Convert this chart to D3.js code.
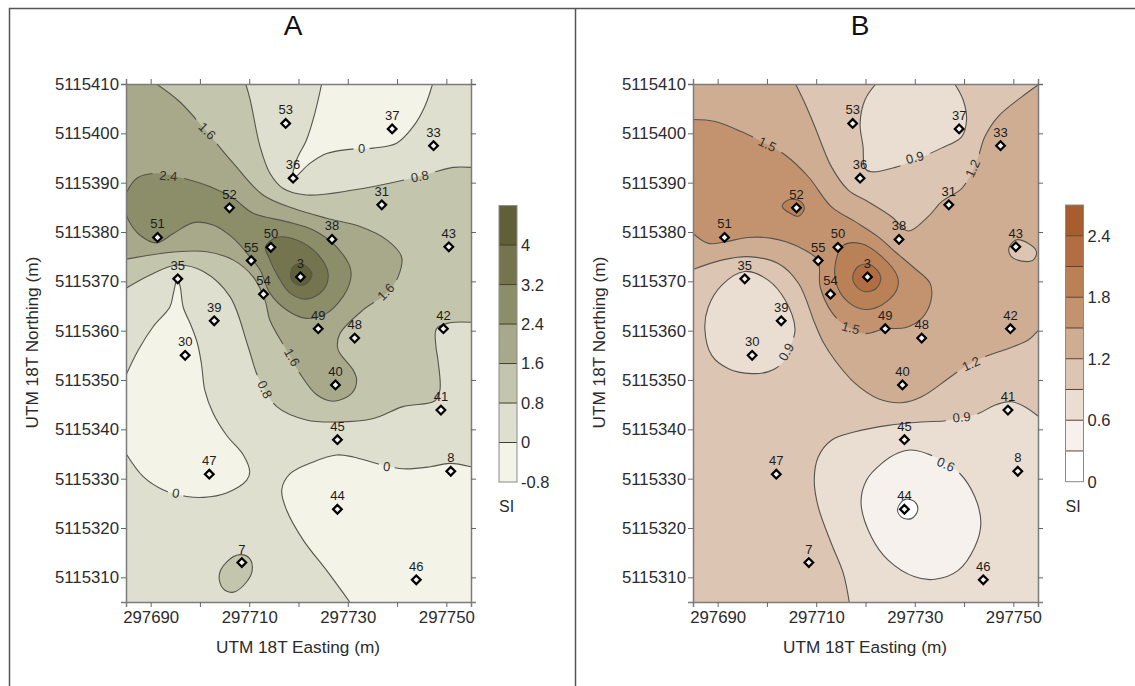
<!DOCTYPE html>
<html>
<head>
<meta charset="utf-8">
<title>SI contour maps</title>
<script src="https://cdn.jsdelivr.net/npm/d3@7"></script>
<style>
  body { margin: 0; background: #fff; }
  text { font-family: 'Liberation Sans', Arial, sans-serif; fill: #2b2b2b; }
</style>
</head>
<body>
<svg id="chart" width="1135" height="686"></svg>
<script>
// sample wells: label, easting, northing
const wellIds = ['53','37','33','36','31','52','51','38','50','43','55','3','35','54','39','49','42','48','30','40','41','45','8','47','44','7','46']
const wellEast = [297717.4,297739.0,297747.4,297718.9,297736.9,297706.0,297691.4,297726.8,297714.4,297750.5,297710.4,297720.4,297695.5,297712.9,297702.9,297724.0,297749.4,297731.4,297697.0,297727.5,297748.9,297727.9,297750.9,297701.9,297727.9,297708.5,297743.9]
const wellNorth = [5115402.0,5115400.9,5115397.5,5115390.9,5115385.5,5115384.9,5115378.9,5115378.5,5115376.9,5115377.0,5115374.2,5115370.9,5115370.5,5115367.4,5115362.0,5115360.4,5115360.4,5115358.5,5115355.0,5115349.0,5115343.9,5115337.9,5115331.5,5115330.9,5115323.8,5115313.0,5115309.5]

const eastTicks = [297690,297700,297710,297720,297730,297740,297750]
const eastLabels = [297690,297710,297730,297750]
const northTicks = [5115410,5115400,5115390,5115380,5115370,5115360,5115350,5115340,5115330,5115320,5115310]

const siA = [-0.8,0,0.8,1.6,2.4,3.2,4,4.8]
const siALabels = [-0.8,0,0.8,1.6,2.4,3.2,4]
const colorsA = ['#f3f3e8','#dedfce','#c4c5ad','#a8a98b','#8c8d69','#74754e','#5f6038']
const siB = [0,0.3,0.6,0.9,1.2,1.5,1.8,2.1,2.4,2.7]
const siBLabels = [0,0.6,1.2,1.8,2.4]
const colorsB = ['#ffffff','#f6f1ed','#eaddd2','#dcc5b3','#cfad93','#c3936f','#ba8056','#b26e42','#a85d2e']

// contour lines, metres east / north of the SW corner (297685, 5115305)
const a0Top = [[39.7,105],[38.3,99],[36.6,93.6],[34.6,89.6],[33.9,85.9],[37.3,88.9],[40.7,90.9],[44.8,91.7],[50.2,92],[54.9,93],[58.3,96.4],[60.6,100.4],[62.2,105]]
const a0Left = [[0,30.1],[3.5,25.4],[7.6,22.7],[12.3,21.4],[15.7,21.2],[20.4,22.1],[24.5,24.7],[25.1,26.4],[23.8,29.8],[20.4,33.8],[17.7,38.2],[16,42.9],[15.3,48.3],[14.5,52.4],[13.3,55.8],[11.6,59.8],[11,63.9],[10.4,65.5],[9.6,62.5],[8.9,59.8],[5.5,55.8],[2.5,51.1],[0,46]]
const a0Right = [[45.4,0],[40.7,6.4],[36,12.5],[32.6,18.6],[31.6,22.7],[33.3,26],[38,28.4],[42.7,29.8],[46.1,29.4],[51.5,27.9],[56.2,27],[61.7,27.4],[65.7,28.1],[70,27.4]]
const a08Lower = [[70,56.7],[65.7,56.6],[63,55.4],[62.9,51.7],[63.3,49],[63.7,43],[62.7,40.8],[56.2,39.6],[50.2,37.2],[42.7,36.5],[36.6,36.9],[30.6,39.6],[26.8,45.6],[24.8,51.7],[21.1,61.9],[15.7,67],[10.4,68.3],[4.9,66.3],[0,63.6]]
const a08Upper = [[24.3,105],[25.2,101.8],[27.2,92.3],[29.2,86.9],[31.9,83.8],[36.6,82.5],[46.1,83.5],[56.2,85.5],[61.7,86.9],[66.4,88.1],[70,88.1]]
const a08Well7 = [[18.9,5.4],[20.4,8.1],[23.1,9.6],[25.1,8.8],[25.6,6.4],[24.5,4.1],[21.8,2],[19.7,2.7]]
const a16 = [[6.2,105],[10.9,101.4],[16.4,95.3],[21.8,88.9],[27.8,82.5],[33.9,79.8],[40.7,77.8],[47.5,76.1],[52.9,73.4],[55.9,70],[55.2,65.9],[52.9,62.6],[48.1,59.2],[43.4,54.4],[42.9,51.7],[43.4,50.4],[46.1,47],[46.8,45],[45.8,42.3],[42.1,40.7],[38.7,42],[35.3,46.3],[32.6,51],[29.2,57.1],[28.2,61.2],[25.8,65.9],[21.8,69.3],[16.4,71],[10.3,71],[0,69.5]]
const a24 = [[0,78.8],[0.5,77.4],[2.8,74.4],[6.2,72.8],[9.6,74.7],[13.7,76.9],[17.7,76.4],[21.8,73.7],[25.1,70],[27.2,67.3],[29.2,62.6],[32.6,59.2],[36.6,57.5],[40.7,58.5],[44.8,63.2],[45.6,67.3],[42.7,72],[38,75.4],[32.6,77.1],[25.8,78.8],[21.8,81.8],[17,84.2],[11.6,85.9],[6.2,86.9],[2.2,85.9],[0,82.8]]
const a32 = [[28.3,72],[30.6,73.9],[34.6,73.4],[38.7,70.7],[41,66.6],[40,63.2],[36.6,61.4],[33.3,62.6],[30.9,65.9],[28.9,70]]
const a40 = [[33.4,66.6],[34.3,68.3],[36,68.4],[37.7,66.6],[37,64.9],[35.5,64.2],[33.9,64.9]]

const b12Lower = [[0,67.4],[5.8,69.3],[11.2,70],[17.3,68.6],[21.4,64.6],[24.7,56.5],[26.4,52.7],[28.8,49],[32.9,44.3],[37.6,41.2],[42.3,40.4],[46.4,41.6],[51.8,45.3],[55.2,47.7],[59.2,49.7],[64,51.4],[68,53.1],[70,55]]
const b12Upper = [[70,104.8],[66.7,102.4],[61.9,98.4],[59.2,94.3],[57.9,90.3],[56.5,86.9],[54.5,83.8],[50.4,81.1],[47.7,78.1],[43.7,75.2],[40.3,78.1],[35.6,81.1],[31.5,83.5],[28.1,88.2],[24.7,96.4],[22.7,101.1],[20.8,105]]
const b09Bottom = [[31.7,0],[30.5,5.8],[28.1,11.8],[25.4,19.3],[24.6,24.7],[25.4,29.4],[28.1,32.8],[32.9,34.5],[39.6,35.8],[46.4,36.5],[51.8,36.8],[57.9,38.2],[61.2,39.9],[64.6,40.6],[67.3,39.6],[70,37.7]]
const b06 = [[34.1,20],[35.2,24.7],[38.3,28.1],[41.6,30.2],[44.3,30.8],[49.1,29.4],[53.8,26.4],[57.2,21.3],[58.4,15.9],[57.2,11.2],[53.8,6.4],[49.1,4.6],[45,5.1],[39.6,8.5],[36.2,13.2]]
const b03 = [[41.5,18.8],[43,20.8],[45,20.3],[45.6,18.6],[44.3,16.9],[42.3,17.2]]
const b09Top = [[37.1,105],[34.9,101.8],[33.9,97],[34.5,92.3],[34.9,87.9],[36.2,87.2],[41,88.1],[45,89.6],[50.4,92],[54.5,94.3],[55.5,97.7],[54.8,101.8],[53.1,105]]
const b09Left = [[2.4,55.4],[3.1,59.8],[5.8,64.2],[10.5,67],[15.3,65.2],[18.7,61.2],[20.7,55.4],[20,52.4],[18,48.3],[15.3,46.7],[11.9,46.3],[7.2,47.3],[3.8,50]]
const b12Well43 = [[64.1,71.7],[65.6,73.4],[68,72.7],[69.7,71],[69,69.3],[66.7,69.1],[64.6,70]]
const b15 = [[0,97.8],[4.5,97.4],[9.9,95.3],[15.3,92.6],[18.7,90.6],[23.4,86.2],[28.1,80.1],[32.9,77.1],[37.6,74],[41,71],[45,67.6],[48.1,64.6],[48.3,61.2],[46.4,57.5],[43,55.6],[39,55.4],[34.9,54.4],[30.8,56.1],[28.1,58.8],[25.8,63.9],[25.3,69.3],[21.4,72],[16,73.7],[11.2,73.9],[6.5,73],[3.1,72.7],[0,74.7]]
const b18 = [[28.8,68],[30.5,72.3],[34.2,72.6],[38.3,70],[41.5,65.9],[41.3,63.2],[38.3,60.2],[34.9,59.3],[31.5,60.8],[29.3,63.9]]
const b21 = [[32.4,65.8],[33.5,68],[35.9,68.4],[38.1,65.9],[37.2,63.6],[34.9,62.9],[33.2,63.9]]
const b18Well52 = [[18.1,80.2],[19.3,81.5],[21.7,81.3],[22.6,79.8],[21.4,78.2],[19.7,78.8]]

// contour labels: text, east, north, angle
const labelsA = [['1.6',16.5,95.5,45],['2.4',8.6,86.4,5],['0',47.8,92,0],['0.8',59.6,86.3,-10],['1.6',52.7,62.9,-45],['1.6',33.7,49.6,60],['0.8',28.2,43.1,65],['0',10.1,22.1,10],['0',52.9,27.5,5]]
const labelsB = [['1.5',15.1,92.8,25],['0.9',45,90.1,-15],['1.2',56.7,87.9,-65],['1.5',32,55.6,15],['0.9',18.9,50.7,-60],['1.2',56.4,48.3,-25],['0.9',54.5,37.5,-5],['0.6',51.3,27.9,25]]

const E0 = 297685
const N0 = 5115305
const svg = d3.select('#chart')

// table frame round the two panels
const frameColor = '#555'
svg.append('path')
  .attr('d', 'M9.5,686V8.5H1135M575.5,8.5V686')
  .attr('fill', 'none')
  .attr('stroke', frameColor)
  .attr('stroke-width', 1.5)

function drawPanel(opts) {
  const x = d3.scaleLinear().domain([E0, 297755]).range([opts.left, opts.left + 345])
  const y = d3.scaleLinear().domain([N0, 5115410]).range([602, 84])
  const px = (p) => [x(E0 + p[0]), y(N0 + p[1])]

  const openLine = d3.line().x((p) => px(p)[0]).y((p) => px(p)[1]).curve(d3.curveCatmullRom.alpha(0.5))
  const closedLine = d3.line().x((p) => px(p)[0]).y((p) => px(p)[1]).curve(d3.curveCatmullRomClosed.alpha(0.5))

  const g = svg.append('g')
  g.append('text')
    .attr('x', opts.left + 167)
    .attr('y', 35)
    .attr('text-anchor', 'middle')
    .style('font-size', '28px')
    .style('fill', '#111')
    .text(opts.title)

  const clipId = 'clip' + opts.title
  g.append('clipPath').attr('id', clipId).append('rect')
    .attr('x', x.range()[0]).attr('y', y.range()[1])
    .attr('width', x.range()[1] - x.range()[0])
    .attr('height', y.range()[0] - y.range()[1])

  const map = g.append('g').attr('clip-path', `url(#${clipId})`)
  map.append('rect')
    .attr('x', x.range()[0]).attr('y', y.range()[1])
    .attr('width', x.range()[1] - x.range()[0])
    .attr('height', y.range()[0] - y.range()[1])
    .attr('fill', opts.colors[opts.baseBand])

  // filled bands, painted low to high
  opts.regions.forEach((r) => {
    let d
    if (r.closed) {
      d = closedLine(r.parts[0])
    } else {
      d = r.parts.map((part, i) => {
        const s = part.length > 2 ? openLine(part) : 'M' + part.map(px).join('L')
        return i ? 'L' + s.slice(1) : s
      }).join('') + 'Z'
    }
    map.append('path').attr('d', d).attr('fill', opts.colors[r.band])
  })

  // contour lines have gaps where their labels sit
  const maskId = 'gaps' + opts.title
  const mask = g.append('mask').attr('id', maskId)
    .attr('maskUnits', 'userSpaceOnUse')
    .attr('x', 0).attr('y', 0).attr('width', 1135).attr('height', 686)
  mask.append('rect').attr('width', 1135).attr('height', 686).attr('fill', '#fff')
  mask.selectAll('rect.gap')
    .data(opts.labels)
    .enter()
    .append('rect')
    .attr('class', 'gap')
    .attr('x', (d) => -(d[0].length * 4 + 4))
    .attr('y', -8)
    .attr('width', (d) => 2 * (d[0].length * 4 + 4))
    .attr('height', 16)
    .attr('transform', (d) => `translate(${px([d[1], d[2]])}) rotate(${d[3]})`)
    .attr('fill', '#000')

  const lines = map.append('g').attr('mask', `url(#${maskId})`)
  opts.regions.forEach((r) => {
    r.parts.filter((part) => part.length > 2).forEach((part) => {
      lines.append('path')
        .attr('d', r.closed ? closedLine(part) : openLine(part))
        .attr('fill', 'none')
        .attr('stroke', '#55554d')
        .attr('stroke-width', 1.1)
    })
  })

  map.selectAll('text.contour')
    .data(opts.labels)
    .enter()
    .append('text')
    .attr('class', 'contour')
    .attr('text-anchor', 'middle')
    .attr('dy', '0.36em')
    .attr('transform', (d) => `translate(${px([d[1], d[2]])}) rotate(${d[3]})`)
    .style('font-size', '13px')
    .style('fill', '#333')
    .text((d) => d[0])

  // axes on all four sides, labels on bottom and left only
  const styleAxis = (sel) => {
    sel.selectAll('.domain').attr('stroke', '#7c7c7c').attr('stroke-width', 1.5)
    sel.selectAll('.tick line').attr('stroke', '#666')
    sel.selectAll('.tick text').style('font-size', '16.8px').style('fill', '#2b2b2b')
  }
  g.append('g')
    .attr('transform', `translate(0,${y.range()[0]})`)
    .call(d3.axisBottom(x).tickValues(eastTicks).tickSizeOuter(0).tickSize(5).tickPadding(4)
      .tickFormat((d) => (eastLabels.includes(d) ? d3.format('d')(d) : '')))
    .call(styleAxis)
  g.append('g')
    .attr('transform', `translate(0,${y.range()[1]})`)
    .call(d3.axisTop(x).tickValues(eastTicks).tickSizeOuter(0).tickSize(5).tickFormat(''))
    .call(styleAxis)
  g.append('g')
    .attr('transform', `translate(${x.range()[0]},0)`)
    .call(d3.axisLeft(y).tickValues(northTicks).tickSizeOuter(0).tickSize(5).tickPadding(2)
      .tickFormat(d3.format('d')))
    .call(styleAxis)
  g.append('g')
    .attr('transform', `translate(${x.range()[1]},0)`)
    .call(d3.axisRight(y).tickValues(northTicks).tickSizeOuter(0).tickSize(5).tickFormat(''))
    .call(styleAxis)

  g.append('text')
    .attr('x', opts.left + 172)
    .attr('y', 652.5)
    .attr('text-anchor', 'middle')
    .style('font-size', '17.2px')
    .text('UTM 18T Easting (m)')
  g.append('text')
    .attr('transform', `translate(${opts.left - 88},342.6) rotate(-90)`)
    .attr('text-anchor', 'middle')
    .style('font-size', '17.2px')
    .text('UTM 18T Northing (m)')

  // wells
  const symbol = d3.symbol().type(d3.symbolDiamond2).size(48)
  const wells = g.selectAll('g.well')
    .data(wellIds)
    .enter()
    .append('g')
    .attr('class', 'well')
    .attr('transform', (d, i) => `translate(${x(wellEast[i])},${y(wellNorth[i])})`)
  wells.append('path')
    .attr('d', symbol())
    .attr('fill', '#f4f4f0')
    .attr('stroke', '#000')
    .attr('stroke-width', 2.2)
  wells.append('text')
    .attr('y', -9)
    .attr('text-anchor', 'middle')
    .style('font-size', '13px')
    .style('fill', '#1c1c1c')
    .text((d) => d)

  // colour legend
  const ly = d3.scaleLinear().domain(d3.extent(opts.breaks)).range(opts.legendY)
  const lx = opts.legendX
  const legend = g.append('g')
  legend.selectAll('rect')
    .data(opts.colors)
    .enter()
    .append('rect')
    .attr('x', lx)
    .attr('width', 18)
    .attr('y', (d, i) => ly(opts.breaks[i + 1]))
    .attr('height', (d, i) => ly(opts.breaks[i]) - ly(opts.breaks[i + 1]))
    .attr('fill', (d) => d)
  legend.selectAll('line')
    .data(opts.breaks.slice(1, -1))
    .enter()
    .append('line')
    .attr('x1', lx).attr('x2', lx + 18)
    .attr('y1', (d) => ly(d)).attr('y2', (d) => ly(d))
    .attr('stroke', opts.legendLine)
    .attr('stroke-width', 1)
  legend.append('rect')
    .attr('x', lx)
    .attr('y', opts.legendY[1])
    .attr('width', 18)
    .attr('height', opts.legendY[0] - opts.legendY[1])
    .attr('fill', 'none')
    .attr('stroke', '#8a8a8a')
    .attr('stroke-width', 1)
  legend.selectAll('text.tick')
    .data(opts.legendLabels)
    .enter()
    .append('text')
    .attr('class', 'tick')
    .attr('x', lx + 22)
    .attr('y', (d) => ly(d))
    .attr('dy', '0.36em')
    .style('font-size', '16.5px')
    .text((d) => d)
  legend.append('text')
    .attr('x', lx)
    .attr('y', 512)
    .style('font-size', '16px')
    .text('SI')
}

drawPanel({
  title: 'A',
  left: 126,
  colors: colorsA,
  breaks: siA,
  legendLabels: siALabels,
  legendX: 499,
  legendY: [482, 205.6],
  legendLine: '#3f3f2c',
  baseBand: 1,
  labels: labelsA,
  regions: [
    { band: 0, parts: [a0Top] },
    { band: 0, parts: [a0Left] },
    { band: 0, parts: [a0Right, [[70, 0]]] },
    { band: 2, parts: [a08Lower, [[0, 105]], a08Upper] },
    { band: 2, parts: [a08Well7], closed: true },
    { band: 3, parts: [a16, [[0, 105]]] },
    { band: 4, parts: [a24] },
    { band: 5, parts: [a32], closed: true },
    { band: 6, parts: [a40], closed: true }
  ]
})

drawPanel({
  title: 'B',
  left: 693,
  colors: colorsB,
  breaks: siB,
  legendLabels: siBLabels,
  legendX: 1065.5,
  legendY: [481.7, 205],
  legendLine: '#5e4030',
  baseBand: 3,
  labels: labelsB,
  regions: [
    { band: 4, parts: [b12Lower, b12Upper, [[0, 105]]] },
    { band: 2, parts: [b09Bottom, [[70, 0]]] },
    { band: 2, parts: [b09Top] },
    { band: 2, parts: [b09Left], closed: true },
    { band: 3, parts: [b12Well43], closed: true },
    { band: 1, parts: [b06], closed: true },
    { band: 0, parts: [b03], closed: true },
    { band: 5, parts: [b15] },
    { band: 6, parts: [b18], closed: true },
    { band: 6, parts: [b18Well52], closed: true },
    { band: 7, parts: [b21], closed: true }
  ]
})
</script>
</body>
</html>
